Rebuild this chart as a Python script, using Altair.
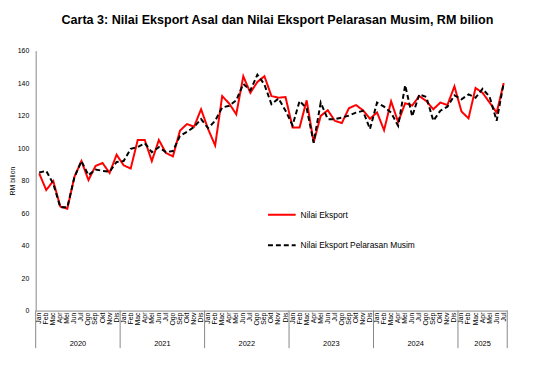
import altair as alt
import pandas as pd

TITLE = "Carta 3: Nilai Eksport Asal dan Nilai Eksport Pelarasan Musim, RM bilion"
MONTHS = ["Jan", "Feb", "Mac", "Apr", "Mei", "Jun", "Jul", "Ogo", "Sep", "Okt", "Nov", "Dis"]
YEARS = ["2020", "2021", "2022", "2023", "2024", "2025"]
SERIES = ["Nilai Eksport", "Nilai Eksport Pelarasan Musim"]

# Jan 2020 .. Jul 2025 (RM bilion)
nilai_eksport = [
    84.4, 74.2, 79.7, 64.0, 62.7, 82.3, 92.0, 80.3, 89.0, 90.8, 84.7, 95.9,
    89.4, 87.4, 105.0, 105.0, 92.0, 105.0, 97.0, 94.9, 110.7, 114.8, 113.1, 123.9,
    111.7, 101.6, 132.0, 127.4, 120.8, 144.2, 134.0, 140.7, 144.2, 132.0, 131.0, 131.4,
    112.7, 112.7, 129.4, 103.6, 119.8, 123.3, 116.8, 115.4, 124.5, 126.5, 123.3, 118.0,
    122.0, 111.0, 128.8, 116.0, 127.6, 126.2, 132.0, 129.0, 123.9, 128.0, 126.5, 138.0,
    122.5, 118.3, 137.0, 134.0, 128.0, 121.8, 140.0,
]
pelarasan_musim = [
    85.0, 86.0, 78.0, 63.6, 63.6, 82.0, 92.0, 83.3, 86.8, 86.0, 85.4, 91.5,
    92.0, 99.5, 100.6, 103.0, 97.5, 100.6, 97.5, 98.2, 107.5, 110.0, 113.0, 117.8,
    112.3, 116.8, 125.0, 126.0, 129.4, 139.5, 135.5, 145.2, 139.1, 127.0, 130.5, 123.0,
    114.0, 129.0, 124.5, 103.3, 128.0, 117.8, 117.8, 118.8, 120.0, 121.8, 122.9, 111.7,
    128.0, 125.5, 121.8, 113.7, 138.7, 119.5, 133.0, 131.5, 116.8, 123.0, 125.5, 132.5,
    130.0, 133.0, 131.0, 136.5, 131.5, 116.8, 140.0,
]

n = len(nilai_eksport)
rows = []
for i in range(n):
    rows.append({"idx": i, "series": SERIES[0], "value": nilai_eksport[i], "order": 0})
for i in range(n):
    rows.append({"idx": i, "series": SERIES[1], "value": pelarasan_musim[i], "order": 1})
df = pd.DataFrame(rows)

months_df = pd.DataFrame({"idx": list(range(n)), "m": [MONTHS[i % 12] for i in range(n)]})

year_centers = []
for k, y in enumerate(YEARS):
    start = 12 * k
    end = min(12 * k + 11, n - 1)
    year_centers.append({"year": y, "c": (start + end) / 2})
years_df = pd.DataFrame(year_centers)

bounds = [-0.5] + [12 * k + 11.5 for k in range(len(YEARS) - 1)] + [n - 0.5]
bounds_df = pd.DataFrame({"b": bounds})

W, H = 477, 263
FONT = "Liberation Sans"

xscale = alt.Scale(domain=[-0.5, n - 0.5], nice=False, zero=False)
yscale = alt.Scale(domain=[0, 160], nice=False)

leg = alt.Legend(title=None, orient="none", legendX=234, legendY=151,
                 symbolType="stroke", symbolSize=784, symbolStrokeWidth=2,
                 labelFontSize=8.5, labelFont=FONT, labelColor="black",
                 rowPadding=11, labelOffset=4, labelLimit=300)

lines = alt.Chart(df).mark_line(strokeWidth=2).encode(
    x=alt.X("idx:Q", scale=xscale,
            axis=alt.Axis(labels=False, ticks=False, grid=False, domainColor="#888888", title=None)),
    y=alt.Y("value:Q", scale=yscale,
            axis=alt.Axis(values=list(range(0, 161, 20)), labelFontSize=7, labelFont=FONT,
                          labelColor="black", ticks=False, grid=False, domainColor="#888888",
                          labelPadding=7, title="RM bilion", titleFontSize=7, titleFont=FONT,
                          titleFontWeight="normal", titleColor="black", titlePadding=2)),
    color=alt.Color("series:N", scale=alt.Scale(domain=SERIES, range=["#ff0000", "#000000"]),
                    legend=leg),
    strokeDash=alt.StrokeDash("series:N", scale=alt.Scale(domain=SERIES, range=[[1, 0], [5, 3]]),
                              legend=leg),
    order=alt.Order("order:Q"),
    detail="series:N",
)

month_text = alt.Chart(months_df).mark_text(
    fontSize=7, font=FONT, color="black", angle=270, align="right", baseline="middle"
).encode(
    x=alt.X("idx:Q", scale=xscale),
    y=alt.value(H + 2),
    text="m:N",
)

seps = alt.Chart(bounds_df).mark_rule(color="#888888", strokeWidth=1).encode(
    x=alt.X("b:Q", scale=xscale),
    y=alt.value(H),
    y2=alt.value(H + 38),
)

year_text = alt.Chart(years_df).mark_text(fontSize=7.5, font=FONT, color="black", baseline="middle").encode(
    x=alt.X("c:Q", scale=xscale),
    y=alt.value(H + 34),
    text="year:N",
)

chart = alt.layer(lines, month_text, seps, year_text).properties(
    width=W, height=H,
    title=alt.TitleParams(TITLE, font=FONT, fontSize=12.7, fontWeight="bold", color="black",
                          anchor="middle", frame="group", dx=6, offset=20),
    autosize=alt.AutoSizeParams(type="none"),
    padding={"left": 28, "top": 41, "right": 20, "bottom": 55},
).configure_view(stroke=None)

chart.save("out.html", embed_options={"renderer": "svg", "actions": False})
